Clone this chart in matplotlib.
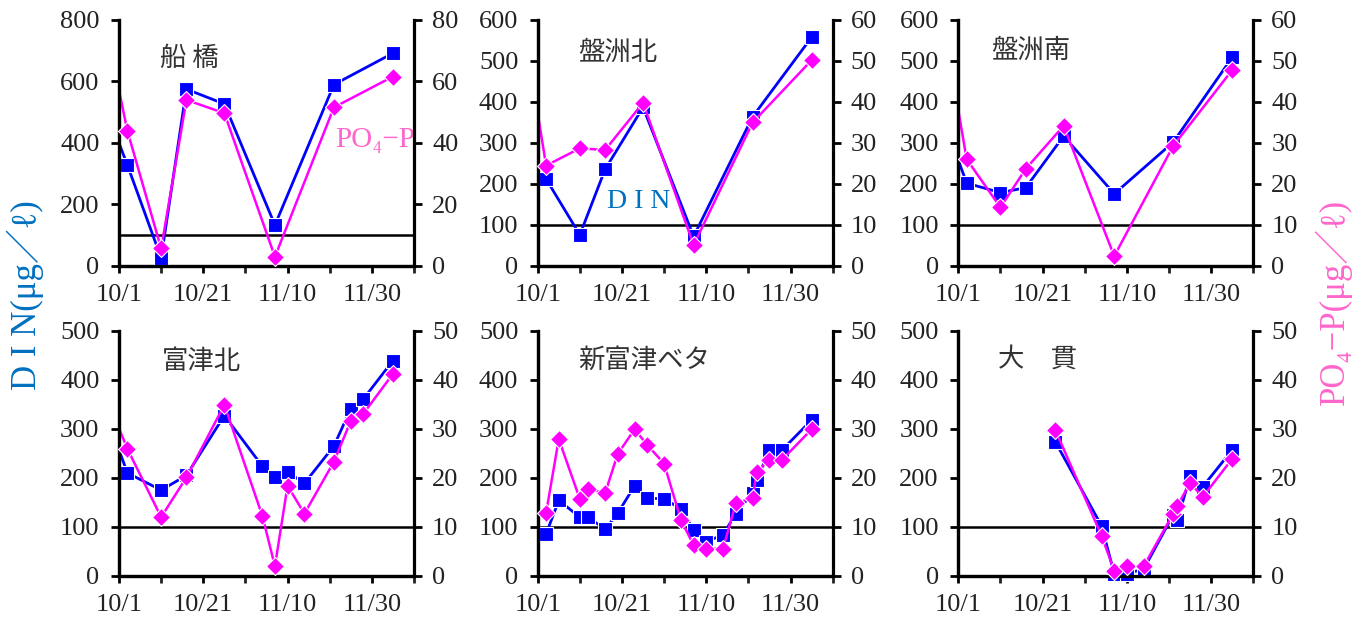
import numpy as np
import matplotlib.pyplot as plt
from matplotlib.ticker import FixedLocator, MultipleLocator

plt.rcParams['font.family'] = ['Liberation Serif', 'DejaVu Serif', 'Noto Sans CJK JP']

# sampling days counted from 10/1 (= day 0); day -3 is the last September sample
funabashi_days = [-3, 2, 10, 16, 25, 37, 51, 65]
funabashi_din = [508, 328, 26, 575, 527, 133, 590, 692]
funabashi_po4 = [77.0, 43.9, 5.7, 54.0, 49.7, 3.0, 51.6, 61.6]

banzu_n_days = [-3, 2, 10, 16, 25, 37, 51, 65]
banzu_n_din = [257, 212, 76, 236, 387, 72, 364, 558]
banzu_n_po4 = [56.3, 24.5, 28.7, 28.3, 39.8, 5.1, 35.0, 50.2]

banzu_s_days = [-3, 2, 10, 16, 25, 37, 51, 65]
banzu_s_din = [342, 202, 179, 191, 317, 176, 302, 509]
banzu_s_po4 = [56.0, 26.0, 14.3, 23.7, 34.2, 2.4, 29.3, 47.8]

futtsu_n_days = [-3, 2, 10, 16, 25, 34, 37, 40, 44, 51, 55, 58, 65]
futtsu_n_din = [327, 210, 175, 205, 327, 224, 201, 212, 189, 265, 341, 361, 439]
futtsu_n_po4 = [36.4, 25.9, 12.0, 20.1, 34.9, 12.3, 2.0, 18.4, 12.7, 23.3, 31.6, 33.1, 41.2]

shinfuttsu_days = [2, 5, 10, 12, 16, 19, 23, 26, 30, 34, 37, 40, 44, 47, 51, 52, 55, 58, 65]
shinfuttsu_din = [86, 154, 120, 120, 95, 128, 184, 159, 157, 137, 94, 70, 84, 127, 170, 196, 257, 257, 318]
shinfuttsu_po4 = [12.9, 27.9, 15.7, 17.8, 16.9, 24.9, 29.9, 26.7, 22.9, 11.4, 6.3, 5.6, 5.6,
                  14.8, 15.9, 21.3, 23.7, 23.7, 29.9]

onuki_days = [23, 34, 37, 40, 44, 51, 52, 55, 58, 65]
onuki_din = [274, 102, 5, 5, 14, 125, 114, 203, 182, 257]
onuki_po4 = [29.8, 8.2, 1.1, 2.0, 2.0, 12.7, 14.3, 19.0, 16.1, 23.9]

stations = ['船 橋', '盤洲北', '盤洲南', '富津北', '新富津ベタ', '大　貫']
din_max = [800, 600, 600, 500, 500, 500]
din_step = [200, 100, 100, 100, 100, 100]
po4_max = [80, 60, 60, 50, 50, 50]
po4_step = [20, 10, 10, 10, 10, 10]
x_ticks_labels = ['10/1', '10/21', '11/10', '11/30']
din_limit = 100

data = [
    (funabashi_days, funabashi_din, funabashi_po4),
    (banzu_n_days, banzu_n_din, banzu_n_po4),
    (banzu_s_days, banzu_s_din, banzu_s_po4),
    (futtsu_n_days, futtsu_n_din, futtsu_n_po4),
    (shinfuttsu_days, shinfuttsu_din, shinfuttsu_po4),
    (onuki_days, onuki_din, onuki_po4),
]

title_pos = [(0.24, 0.845), (0.272, 0.87), (0.244, 0.878),
             (0.28, 0.874), (0.36, 0.88), (0.267, 0.885)]

W, H = 1365, 622
fig = plt.figure(figsize=(W / 100, H / 100), dpi=100)

lefts = [119, 537.7, 958.3]
tops = [20, 330.7]
heights = [246, 245.3]
width = 295

blue = '#0000FF'
magenta = '#FF00FF'
tick_col = '#222222'

for k, (days, din, po4) in enumerate(data):
    r, c = divmod(k, 3)
    rect = [lefts[c] / W, 1 - (tops[r] + heights[r]) / H, width / W, heights[r] / H]
    ax = fig.add_axes(rect)
    ax2 = ax.twinx()

    days = np.array(days)
    din = np.array(din)
    po4 = np.array(po4)
    inside = days >= 0

    ax.axhline(din_limit, color='black', lw=1.8, zorder=1)
    ax.plot(days, din, color=blue, lw=2, zorder=2)
    ax.plot(days[inside], din[inside], ls='none', marker='s', ms=10.5, mfc=blue,
            mec='white', mew=0.8, clip_on=False, zorder=3)
    ax2.plot(days, po4, color=magenta, lw=1.8, zorder=2)
    ax2.plot(days[inside], po4[inside], ls='none', marker='D', ms=9.5, mfc=magenta,
             mec='white', mew=0.8, clip_on=False, zorder=3)

    ax.set_xlim(0, 70)
    ax.set_ylim(0, din_max[k])
    ax2.set_ylim(0, po4_max[k])
    ax.yaxis.set_major_locator(MultipleLocator(din_step[k]))
    ax2.yaxis.set_major_locator(MultipleLocator(po4_step[k]))
    ax.xaxis.set_major_locator(FixedLocator([0, 20, 40, 60]))
    ax.xaxis.set_minor_locator(FixedLocator([10, 30, 50, 70]))
    ax.set_xticklabels(x_ticks_labels)

    for a in (ax, ax2):
        a.spines['top'].set_visible(False)
        for s in ('left', 'right', 'bottom'):
            a.spines[s].set_linewidth(2.3)
    ax.spines['right'].set_visible(False)

    ax.tick_params(axis='x', which='both', direction='out', length=5, width=2,
                   labelsize=19, pad=8, colors=tick_col)
    ax.tick_params(axis='y', direction='out', length=6, width=2, labelsize=19,
                   pad=8, colors=tick_col)
    ax2.tick_params(axis='y', direction='out', length=6, width=2, labelsize=19,
                    pad=7, colors=tick_col)
    for a in (ax, ax2):
        a.tick_params(color='black')

    tx, ty = title_pos[k]
    ax.text(tx, ty, stations[k], transform=ax.transAxes, ha='center', va='center',
            fontsize=19, color='#333333', family=['Noto Sans CJK JP'])

    if k == 0:
        ax.text(0.732, 0.512, 'PO₄−P', transform=ax.transAxes, ha='left', va='center',
                fontsize=21, color='#FF66CC')
    if k == 1:
        ax.text(0.234, 0.261, 'D I N', transform=ax.transAxes, ha='left', va='center',
                fontsize=20, color='#0070C0')

fig.text(0.0183, 0.525, 'D I N(μg／ℓ)', rotation=90, ha='center', va='center',
         fontsize=25, color='#0070C0')
fig.text(0.977, 0.515, 'PO₄−P(μg／ℓ)', rotation=90, ha='center', va='center',
         fontsize=25, color='#FF66CC')

plt.savefig('out.png', dpi=100)
